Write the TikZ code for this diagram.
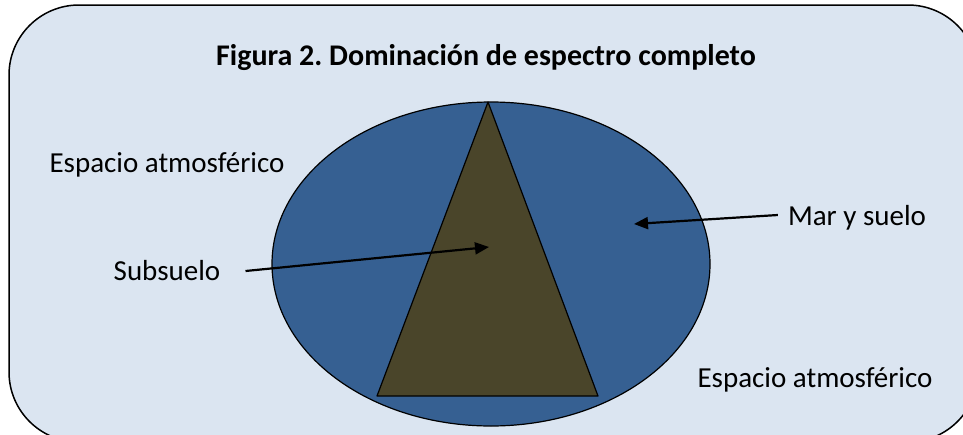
\documentclass[tikz,border=0pt]{standalone}
\usepackage{fontspec}
\setmainfont{Carlito}
\usetikzlibrary{arrows.meta}
\usetikzlibrary{positioning}
\definecolor{fondo}{HTML}{DBE5F1}
\definecolor{azul}{HTML}{366092}
\definecolor{oliva}{HTML}{4A452A}
\frenchspacing

\begin{document}
\begin{tikzpicture}[x=1pt,y=-1pt,>={Triangle[length=14pt,width=12pt]},
	etiqueta/.style={inner sep=0pt,font=\fontsize{29}{34}\selectfont},
	flecha/.style={->,line width=2.2pt}]
			\useasboundingbox (0,0) rectangle (963,434);
			\clip (0,0) rectangle (963,434);
			\draw[fill=fondo,line width=1.5pt,rounded corners=70pt] (9,5) rectangle (978,442);
			\node[etiqueta,font=\fontsize{30}{35}\selectfont\bfseries] (titulo) at (486,58) {Figura 2. Dominación de espectro completo};
			\draw[fill=azul,line width=1.2pt] (491,264) ellipse [x radius=219pt,y radius=162pt];
			\draw[fill=oliva,line width=1.2pt,line join=round] (488,102) -- (598,396) -- (377,396) -- cycle;
			\coordinate (centro) at (489,247);
			\coordinate (mar) at (634,224);
			\node[etiqueta] (atm1) at (167,165) {Espacio atmosférico};
			\node[etiqueta] (sub) at (167,271) {Subsuelo};
			\node[etiqueta] (suelo) at (857,218) {Mar y suelo};
			\node[etiqueta] (atm2) at (815,380) {Espacio atmosférico};
			\draw[flecha]  (sub.east) ++(25pt,0) coordinate (subi) (subi) -- (centro);
			\draw[flecha]  (suelo.west) ++(-10pt,3pt) coordinate (sueloi) (sueloi) -- (mar);
			\end{tikzpicture}
\end{document}
